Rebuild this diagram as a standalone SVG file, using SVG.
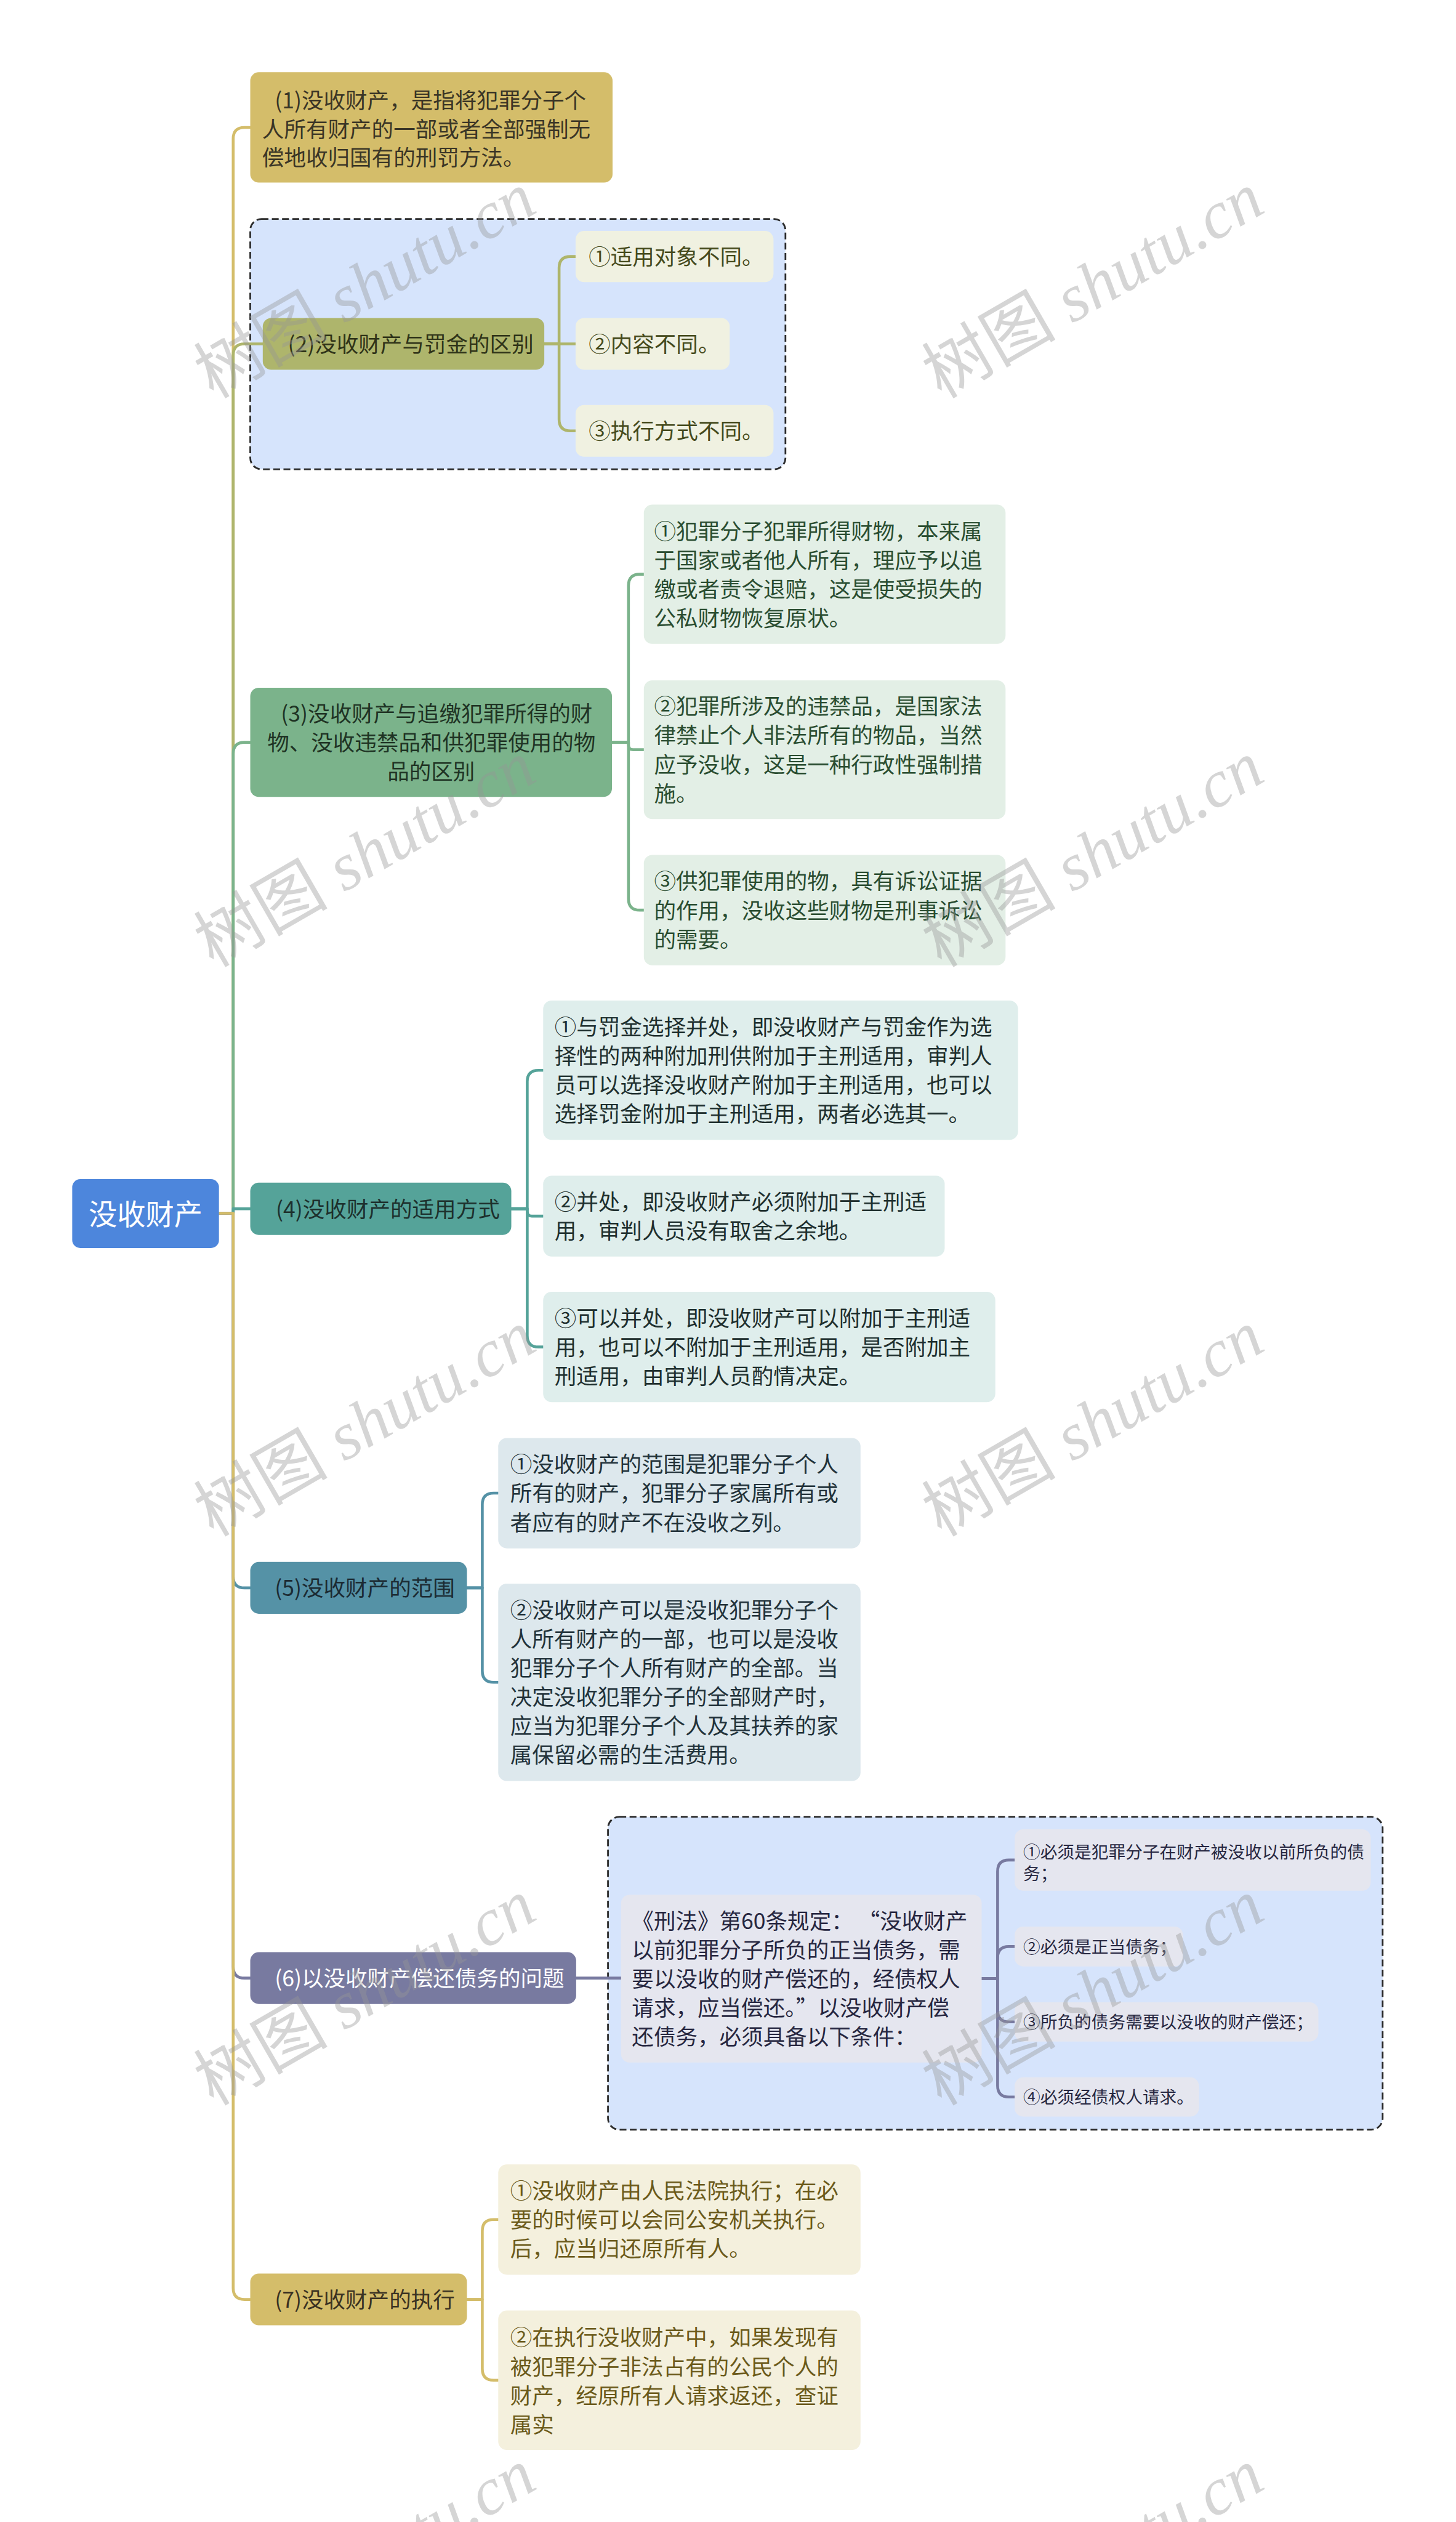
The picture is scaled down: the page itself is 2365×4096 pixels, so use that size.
<svg xmlns="http://www.w3.org/2000/svg" width="2365" height="4096" viewBox="0 0 2365 4096">
<style>
text{font-family:'Noto Sans CJK SC','Noto Sans',sans-serif;font-size:38.5px}
.c{fill:none;stroke-width:5;stroke-linecap:round;stroke-linejoin:round}
.frame{fill:#d6e4fc;stroke:#2b2b2b;stroke-width:3;stroke-dasharray:12 6}
.wm{font-family:'Liberation Serif','Noto Sans CJK SC',serif;font-size:118px;fill:#969696;fill-opacity:0.4}
.sm{font-size:30px}
</style>
<rect x="0" y="0" width="2365" height="4096" fill="#ffffff"/>
<g transform="scale(0.92383)">
<!-- frames -->
<rect class="frame" x="440" y="385" width="941" height="440" rx="20"/>
<rect class="frame" x="1069" y="3194" width="1362" height="550" rx="20"/>
<!-- connectors -->
<g id="connectors">
<path class="c" stroke="#d4bd6a" d="M385,2133 H410 V244 Q410,224 430,224 H440"/>
<path class="c" stroke="#aeb56c" d="M385,2133 H410 V624.5 Q410,604.5 430,604.5 H462"/>
<path class="c" stroke="#7bb38b" d="M385,2133 H410 V1325 Q410,1305 430,1305 H440"/>
<path class="c" stroke="#55a399" d="M385,2133 H410 V2125 H440"/>
<path class="c" stroke="#5592a6" d="M385,2133 H410 V2771.5 Q410,2791.5 430,2791.5 H440"/>
<path class="c" stroke="#787aa0" d="M385,2133 H410 V3457.5 Q410,3477.5 430,3477.5 H440"/>
<path class="c" stroke="#d4bd6a" d="M385,2133 H410 V4022.5 Q410,4042.5 430,4042.5 H440"/>
<g stroke="#aeb56c">
<path class="c" d="M957,604.5 H983 V471 Q983,451 1003,451 H1012"/>
<path class="c" d="M957,604.5 H1012"/>
<path class="c" d="M957,604.5 H983 V737.5 Q983,757.5 1003,757.5 H1012"/>
</g>
<g stroke="#7bb38b">
<path class="c" d="M1076,1305 H1105 V1029.5 Q1105,1009.5 1125,1009.5 H1132"/>
<path class="c" d="M1076,1305 H1105 V1310 Q1105,1318 1113,1318 H1132"/>
<path class="c" d="M1076,1305 H1105 V1580 Q1105,1600 1125,1600 H1132"/>
</g>
<g stroke="#55a399">
<path class="c" d="M899,2125 H927 V1901.5 Q927,1881.5 947,1881.5 H955"/>
<path class="c" d="M899,2125 H927 V2130 Q927,2138 935,2138 H955"/>
<path class="c" d="M899,2125 H927 V2348 Q927,2368 947,2368 H955"/>
</g>
<g stroke="#5592a6">
<path class="c" d="M821,2791.5 H848 V2645 Q848,2625 868,2625 H876"/>
<path class="c" d="M821,2791.5 H848 V2937.5 Q848,2957.5 868,2957.5 H876"/>
</g>
<g stroke="#787aa0">
<path class="c" d="M1013,3477.5 H1092"/>
<path class="c" d="M1726,3478.5 H1754 V3290 Q1754,3270 1774,3270 H1784"/>
<path class="c" d="M1726,3478.5 H1754 V3442 Q1754,3422 1774,3422 H1784"/>
<path class="c" d="M1726,3478.5 H1754 V3534.5 Q1754,3554.5 1774,3554.5 H1784"/>
<path class="c" d="M1726,3478.5 H1754 V3666.5 Q1754,3686.5 1774,3686.5 H1784"/>
</g>
<g stroke="#d4bd6a">
<path class="c" d="M821,4042.5 H848 V3922 Q848,3902 868,3902 H876"/>
<path class="c" d="M821,4042.5 H848 V4164.5 Q848,4184.5 868,4184.5 H876"/>
</g>
</g>
<!-- root -->
<g id="root">
<rect x="127" y="2073" width="258" height="121" rx="14" fill="#4d86dc"/>
<text x="256" y="2152.5" text-anchor="middle" style="font-size:50px" fill="#ffffff">没收财产</text>
</g>
<!-- (1) -->
<g id="n1" fill="#3a3526">
<rect x="440" y="127" width="637" height="194" rx="15" fill="#d4bd6a"/>
<text x="483" y="191">(1)没收财产，是指将犯罪分子个</text>
<text x="461" y="241.5">人所有财产的一部或者全部强制无</text>
<text x="461" y="291.5">偿地收归国有的刑罚方法。</text>
</g>
<!-- (2) -->
<g id="n2" fill="#2f3318">
<rect x="462" y="559" width="495" height="91" rx="15" fill="#aeb56c"/>
<text x="506" y="619">(2)没收财产与罚金的区别</text>
</g>
<g id="n2-1" fill="#454a1c">
<rect x="1012" y="406" width="348" height="90" rx="15" fill="#f0f1e1"/>
<text x="1035" y="465.5">①适用对象不同。</text>
</g>
<g id="n2-2" fill="#454a1c">
<rect x="1012" y="559" width="271" height="91" rx="15" fill="#f0f1e1"/>
<text x="1035" y="619">②内容不同。</text>
</g>
<g id="n2-3" fill="#454a1c">
<rect x="1012" y="712" width="348" height="91" rx="15" fill="#f0f1e1"/>
<text x="1035" y="772">③执行方式不同。</text>
</g>
<!-- (3) -->
<g id="n3" fill="#1f3324">
<rect x="440" y="1209" width="636" height="192" rx="15" fill="#7bb38b"/>
<text x="494" y="1268.5">(3)没收财产与追缴犯罪所得的财</text>
<text x="470" y="1319.5">物、没收违禁品和供犯罪使用的物</text>
<text x="758" y="1370.5" text-anchor="middle">品的区别</text>
</g>
<g id="n3-1" fill="#2a4d31">
<rect x="1132" y="887" width="636" height="245" rx="15" fill="#e3efe6"/>
<text x="1150" y="948">①犯罪分子犯罪所得财物，本来属</text>
<text x="1150" y="999">于国家或者他人所有，理应予以追</text>
<text x="1150" y="1050">缴或者责令退赔，这是使受损失的</text>
<text x="1150" y="1101">公私财物恢复原状。</text>
</g>
<g id="n3-2" fill="#2a4d31">
<rect x="1132" y="1196" width="636" height="244" rx="15" fill="#e3efe6"/>
<text x="1150" y="1256">②犯罪所涉及的违禁品，是国家法</text>
<text x="1150" y="1307">律禁止个人非法所有的物品，当然</text>
<text x="1150" y="1358">应予没收，这是一种行政性强制措</text>
<text x="1150" y="1409">施。</text>
</g>
<g id="n3-3" fill="#2a4d31">
<rect x="1132" y="1503" width="636" height="194" rx="15" fill="#e3efe6"/>
<text x="1150" y="1563.5">③供犯罪使用的物，具有诉讼证据</text>
<text x="1150" y="1614.5">的作用，没收这些财物是刑事诉讼</text>
<text x="1150" y="1665.5">的需要。</text>
</g>
<!-- (4) -->
<g id="n4" fill="#1d302d">
<rect x="440" y="2079" width="459" height="92" rx="15" fill="#55a399"/>
<text x="485" y="2139.5">(4)没收财产的适用方式</text>
</g>
<g id="n4-1" fill="#1e2f2e">
<rect x="955" y="1759" width="835" height="245" rx="15" fill="#dfeeec"/>
<text x="975" y="1819.5">①与罚金选择并处，即没收财产与罚金作为选</text>
<text x="975" y="1870.5">择性的两种附加刑供附加于主刑适用，审判人</text>
<text x="975" y="1921.5">员可以选择没收财产附加于主刑适用，也可以</text>
<text x="975" y="1972.5">选择罚金附加于主刑适用，两者必选其一。</text>
</g>
<g id="n4-2" fill="#1e2f2e">
<rect x="955" y="2067" width="706" height="142" rx="15" fill="#dfeeec"/>
<text x="975" y="2127">②并处，即没收财产必须附加于主刑适</text>
<text x="975" y="2178">用，审判人员没有取舍之余地。</text>
</g>
<g id="n4-3" fill="#1e2f2e">
<rect x="955" y="2271" width="795" height="194" rx="15" fill="#dfeeec"/>
<text x="975" y="2331.5">③可以并处，即没收财产可以附加于主刑适</text>
<text x="975" y="2382.5">用，也可以不附加于主刑适用，是否附加主</text>
<text x="975" y="2433.5">刑适用，由审判人员酌情决定。</text>
</g>
<!-- (5) -->
<g id="n5" fill="#1c2b33">
<rect x="440" y="2746" width="381" height="91" rx="15" fill="#5592a6"/>
<text x="483" y="2806">(5)没收财产的范围</text>
</g>
<g id="n5-1" fill="#22323a">
<rect x="876" y="2528" width="637" height="194" rx="15" fill="#dde8ed"/>
<text x="897" y="2588.5">①没收财产的范围是犯罪分子个人</text>
<text x="897" y="2639.5">所有的财产，犯罪分子家属所有或</text>
<text x="897" y="2690.5">者应有的财产不在没收之列。</text>
</g>
<g id="n5-2" fill="#22323a">
<rect x="876" y="2784" width="637" height="347" rx="15" fill="#dde8ed"/>
<text x="897" y="2844.5">②没收财产可以是没收犯罪分子个</text>
<text x="897" y="2895.5">人所有财产的一部，也可以是没收</text>
<text x="897" y="2946.5">犯罪分子个人所有财产的全部。当</text>
<text x="897" y="2997.5">决定没收犯罪分子的全部财产时，</text>
<text x="897" y="3048.5">应当为犯罪分子个人及其扶养的家</text>
<text x="897" y="3099.5">属保留必需的生活费用。</text>
</g>
<!-- (6) -->
<g id="n6" fill="#ffffff">
<rect x="440" y="3432" width="573" height="91" rx="15" fill="#787aa0"/>
<text x="483" y="3492">(6)以没收财产偿还债务的问题</text>
</g>
<g id="n6-0" fill="#262640">
<rect x="1092" y="3331" width="634" height="295" rx="15" fill="#e5e6ef"/>
<text x="1111" y="3391">《刑法》第60条规定： “没收财产</text>
<text x="1111" y="3442">以前犯罪分子所负的正当债务，需</text>
<text x="1111" y="3493">要以没收的财产偿还的，经债权人</text>
<text x="1111" y="3544">请求，应当偿还。”以没收财产偿</text>
<text x="1111" y="3595">还债务，必须具备以下条件：</text>
</g>
<g id="n6-1" fill="#262640">
<rect x="1784" y="3216" width="626" height="108" rx="15" fill="#e5e6ef"/>
<text class="sm" x="1799" y="3266.5">①必须是犯罪分子在财产被没收以前所负的债</text>
<text class="sm" x="1799" y="3304.5">务；</text>
</g>
<g id="n6-2" fill="#262640">
<rect x="1784" y="3387" width="296" height="70" rx="15" fill="#e5e6ef"/>
<text class="sm" x="1799" y="3433.5">②必须是正当债务；</text>
</g>
<g id="n6-3" fill="#262640">
<rect x="1784" y="3520" width="534" height="69" rx="15" fill="#e5e6ef"/>
<text class="sm" x="1799" y="3566">③所负的债务需要以没收的财产偿还；</text>
</g>
<g id="n6-4" fill="#262640">
<rect x="1784" y="3652" width="324" height="69" rx="15" fill="#e5e6ef"/>
<text class="sm" x="1799" y="3698">④必须经债权人请求。</text>
</g>
<!-- (7) -->
<g id="n7" fill="#3a3222">
<rect x="440" y="3997" width="381" height="91" rx="15" fill="#d4bd6a"/>
<text x="483" y="4057">(7)没收财产的执行</text>
</g>
<g id="n7-1" fill="#6b5a1a">
<rect x="876" y="3805" width="637" height="194" rx="15" fill="#f4f0dd"/>
<text x="897" y="3865.5">①没收财产由人民法院执行；在必</text>
<text x="897" y="3916.5">要的时候可以会同公安机关执行。</text>
<text x="897" y="3967.5">后，应当归还原所有人。</text>
</g>
<g id="n7-2" fill="#6b5a1a">
<rect x="876" y="4062" width="637" height="245" rx="15" fill="#f4f0dd"/>
<text x="897" y="4123.5">②在执行没收财产中，如果发现有</text>
<text x="897" y="4174.5">被犯罪分子非法占有的公民个人的</text>
<text x="897" y="4225.5">财产，经原所有人请求返还，查证</text>
<text x="897" y="4276.5">属实</text>
</g>
<!-- watermarks -->
<g id="watermarks">
<text class="wm" transform="translate(375,702) rotate(-30)">树图 <tspan font-style="italic">shutu.cn</tspan></text>
<text class="wm" transform="translate(1655,702) rotate(-30)">树图 <tspan font-style="italic">shutu.cn</tspan></text>
<text class="wm" transform="translate(375,1702) rotate(-30)">树图 <tspan font-style="italic">shutu.cn</tspan></text>
<text class="wm" transform="translate(1655,1702) rotate(-30)">树图 <tspan font-style="italic">shutu.cn</tspan></text>
<text class="wm" transform="translate(375,2703) rotate(-30)">树图 <tspan font-style="italic">shutu.cn</tspan></text>
<text class="wm" transform="translate(1655,2703) rotate(-30)">树图 <tspan font-style="italic">shutu.cn</tspan></text>
<text class="wm" transform="translate(375,3703) rotate(-30)">树图 <tspan font-style="italic">shutu.cn</tspan></text>
<text class="wm" transform="translate(1655,3703) rotate(-30)">树图 <tspan font-style="italic">shutu.cn</tspan></text>
<text class="wm" transform="translate(375,4704) rotate(-30)">树图 <tspan font-style="italic">shutu.cn</tspan></text>
<text class="wm" transform="translate(1655,4704) rotate(-30)">树图 <tspan font-style="italic">shutu.cn</tspan></text>
</g>
</g>
</svg>
